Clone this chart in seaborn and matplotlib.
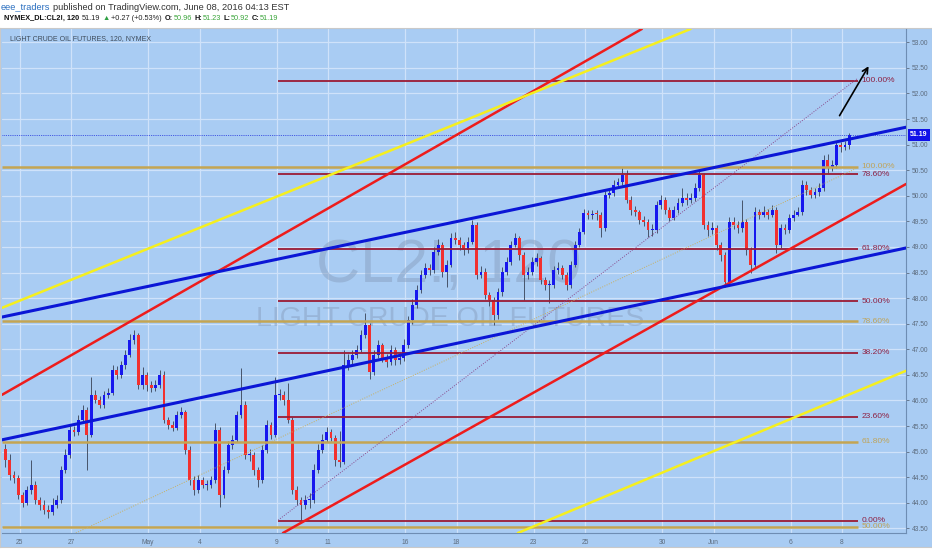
import matplotlib
matplotlib.use("Agg")
import matplotlib.pyplot as plt
import numpy as np
import pandas as pd
import seaborn as sns

# 120-minute CL2! bars (6 bars per trading day)
first_open = 45.05
closes = [
    44.84, 44.54, 44.48, 44.15, 44.00, 44.25, 44.35, 44.05, 43.96, 43.86,
    43.82, 43.96, 44.05, 44.64, 44.93, 45.42, 45.38, 45.62, 45.81, 45.32,
    46.11, 46.01, 45.91, 46.11, 46.15, 46.59, 46.50, 46.69, 46.89, 47.18,
    47.28, 46.30, 46.50, 46.30, 46.24, 46.30, 46.50, 45.62, 45.52, 45.46,
    45.71, 45.77, 45.03, 44.44, 44.25, 44.44, 44.35, 44.35, 44.44, 45.42,
    44.15, 44.64, 45.13, 45.23, 45.71, 45.91, 44.93, 44.93, 44.64, 44.44,
    45.03, 45.52, 45.32, 46.11, 46.11, 46.01, 45.62, 44.25, 44.05, 43.96,
    44.05, 44.05, 44.64, 45.03, 45.23, 45.38, 45.27, 44.84, 44.80, 46.69,
    46.79, 46.89, 46.99, 47.28, 47.47, 46.55, 46.89, 47.08, 46.83, 46.75,
    46.99, 46.79, 46.83, 47.08, 47.57, 47.87, 48.16, 48.45, 48.59, 48.55,
    48.90, 49.04, 48.51, 48.65, 49.18, 49.14, 49.04, 48.94, 49.10, 49.43,
    48.45, 48.51, 48.06, 47.96, 47.67, 48.12, 48.51, 48.71, 49.04, 49.18,
    48.84, 48.45, 48.51, 48.71, 48.78, 48.35, 48.26, 48.26, 48.55, 48.59,
    48.45, 48.26, 48.65, 49.04, 49.29, 49.66, 49.63, 49.64, 49.63, 49.37,
    50.02, 50.05, 50.21, 50.27, 50.41, 49.92, 49.72, 49.68, 49.53, 49.49,
    49.33, 49.33, 49.82, 49.92, 49.72, 49.57, 49.72, 49.86, 49.96, 49.92,
    49.96, 50.15, 50.41, 49.43, 49.33, 49.37, 49.04, 48.84, 48.31, 49.49,
    49.43, 49.37, 49.49, 48.94, 48.65, 49.68, 49.63, 49.68, 49.63, 49.72,
    49.04, 49.37, 49.33, 49.57, 49.63, 49.68, 50.21, 50.11, 50.02, 50.07,
    50.15, 50.70, 50.54, 50.60, 50.99, 50.95, 50.99, 51.19,
]
highs = [
    45.15, 44.95, 44.62, 44.55, 44.22, 44.32, 44.84, 44.42, 44.12, 44.05,
    43.95, 44.10, 44.15, 44.72, 45.05, 45.50, 45.50, 45.72, 45.92, 45.88,
    46.46, 46.20, 46.08, 46.18, 46.25, 46.70, 46.68, 46.78, 46.98, 47.30,
    47.38, 47.32, 46.66, 46.55, 46.38, 46.40, 46.60, 46.58, 45.68, 45.60,
    45.80, 45.88, 45.82, 45.10, 44.52, 44.55, 44.50, 44.45, 44.52, 45.56,
    45.48, 44.72, 45.20, 45.32, 45.80, 46.63, 45.98, 45.05, 45.00, 44.70,
    45.12, 45.62, 45.58, 46.46, 46.22, 46.18, 46.35, 45.68, 44.32, 44.12,
    44.15, 44.20, 44.75, 45.15, 45.35, 45.48, 45.45, 45.32, 45.40, 46.99,
    46.90, 46.98, 47.08, 47.38, 47.71, 47.52, 46.98, 47.18, 47.12, 46.90,
    47.08, 47.05, 46.95, 47.20, 47.65, 47.98, 48.25, 48.55, 48.68, 48.66,
    49.00, 49.15, 49.10, 48.75, 49.28, 49.30, 49.20, 49.10, 49.20, 49.52,
    49.48, 48.62, 48.58, 48.12, 48.02, 48.20, 48.60, 48.80, 49.12, 49.28,
    49.22, 48.90, 48.60, 48.80, 48.88, 48.82, 48.42, 48.36, 48.62, 48.70,
    48.65, 48.52, 48.72, 49.12, 49.38, 49.75, 49.73, 49.72, 49.72, 49.68,
    50.10, 50.14, 50.30, 50.35, 50.54, 50.50, 50.00, 49.80, 49.72, 49.60,
    49.55, 49.45, 49.90, 50.02, 49.98, 49.78, 49.80, 49.95, 50.15, 50.05,
    50.05, 50.25, 50.50, 50.45, 49.50, 49.48, 49.42, 49.10, 48.90, 49.58,
    49.58, 49.50, 49.92, 49.55, 49.00, 49.78, 49.75, 49.80, 49.75, 49.82,
    49.78, 49.45, 49.45, 49.65, 49.72, 49.78, 50.30, 50.28, 50.18, 50.15,
    50.25, 50.80, 50.82, 50.70, 51.08, 51.06, 51.08, 51.23,
]
lows = [
    44.70, 44.45, 44.38, 44.08, 43.92, 43.95, 44.18, 43.98, 43.85, 43.78,
    43.70, 43.76, 43.90, 44.00, 44.58, 44.88, 45.30, 45.33, 45.55, 44.64,
    45.28, 45.95, 45.85, 45.86, 46.05, 46.10, 46.42, 46.44, 46.62, 46.85,
    47.10, 46.22, 46.22, 46.18, 46.16, 46.18, 46.25, 45.55, 45.45, 45.40,
    45.42, 45.65, 44.95, 44.35, 44.15, 44.20, 44.28, 44.25, 44.28, 44.38,
    43.92, 44.10, 44.58, 45.05, 45.18, 45.65, 44.85, 44.82, 44.55, 44.30,
    44.38, 44.98, 45.25, 45.28, 46.00, 45.92, 45.55, 44.18, 43.95, 43.66,
    43.88, 43.90, 44.00, 44.58, 44.98, 45.18, 45.20, 44.72, 44.70, 44.75,
    46.60, 46.72, 46.82, 46.95, 47.22, 46.42, 46.50, 46.82, 46.75, 46.65,
    46.70, 46.70, 46.72, 46.78, 47.02, 47.50, 47.80, 48.10, 48.40, 48.46,
    48.50, 48.85, 48.42, 48.22, 48.60, 49.05, 48.95, 48.85, 48.88, 49.05,
    48.38, 48.40, 47.98, 47.85, 47.47, 47.60, 48.05, 48.45, 48.65, 49.00,
    48.75, 47.96, 48.38, 48.45, 48.62, 48.28, 48.15, 47.90, 48.20, 48.48,
    48.38, 48.15, 48.20, 48.60, 49.00, 49.25, 49.55, 49.55, 49.52, 49.20,
    49.32, 49.95, 50.00, 50.15, 50.22, 49.85, 49.62, 49.60, 49.45, 49.40,
    49.19, 49.22, 49.28, 49.75, 49.65, 49.50, 49.52, 49.66, 49.80, 49.82,
    49.85, 49.90, 50.10, 49.35, 49.22, 49.25, 48.95, 48.72, 48.21, 48.25,
    49.35, 49.28, 49.30, 48.85, 48.49, 48.60, 49.55, 49.58, 49.55, 49.58,
    48.88, 48.98, 49.25, 49.28, 49.50, 49.60, 49.62, 50.02, 49.95, 49.96,
    50.00, 50.10, 50.45, 50.48, 50.55, 50.85, 50.90, 50.92,
]
bars_per_day = 6
first_bar_day = -0.55   # trading-day position of the first bar (0 = Apr 25)

# x axis: trading-day index of each date label
date_ticks = [0, 2, 5, 7, 10, 12, 15, 17, 20, 22, 25, 27, 30, 32]
date_labels = ["25", "27", "May", "4", "9", "11", "16", "18", "23", "25", "30", "Jun", "6", "8"]
price_ticks = [43.5, 44.0, 44.5, 45.0, 45.5, 46.0, 46.5, 47.0, 47.5, 48.0,
               48.5, 49.0, 49.5, 50.0, 50.5, 51.0, 51.5, 52.0, 52.5, 53.0]
last_price = 51.19

# fibonacci retracement (red, from May 9 low) and gold (older swing)
fib_red_levels = [43.65, 45.68, 46.93, 47.94, 48.96, 50.42, 52.25]
fib_red_labels = ["0.00%", "23.60%", "38.20%", "50.00%", "61.80%", "78.60%", "100.00%"]
fib_red_span = [10.06, 32.62]
fib_gold_levels = [43.53, 45.19, 47.55, 50.57]
fib_gold_labels = ["50.00%", "61.80%", "78.60%", "100.00%"]
fib_gold_span = [-0.7, 32.62]

# trend lines: two anchor points (day, price) each
blue_upper = [(-0.685, 47.63), (34.49, 51.34)]
blue_lower = [(-0.685, 45.23), (34.49, 48.98)]
red_upper = [(-0.685, 46.11), (24.14, 53.24)]
red_lower = [(10.25, 43.41), (34.49, 50.23)]
yellow_upper = [(-0.685, 47.81), (26.01, 53.24)]
yellow_lower = [(19.39, 43.41), (34.49, 46.58)]
purple_dotted = [(10.06, 43.66), (32.62, 52.30)]
gold_dotted = [(2.19, 43.41), (32.58, 50.54)]
arrow_from = (31.85, 51.52)
arrow_to = (33.09, 52.58)

bg = "#a9ccf3"
sns.set_style("white", rc={"axes.facecolor": bg, "figure.facecolor": "white"})
plt.rcParams["font.family"] = ["DejaVu Sans"]
head_font = ["Liberation Sans", "DejaVu Sans"]

W, H = 932, 550
fig = plt.figure(figsize=(W / 100, H / 100), dpi=100)
back = fig.add_axes([0, 3 / H, 1, (547 - 28) / H], zorder=-5)
back.set_facecolor(bg)
back.set_xticks([])
back.set_yticks([])
for s in back.spines.values():
    s.set_color("#c9c9c9")
    s.set_linewidth(0.8)

ax = fig.add_axes([2 / W, 17 / H, 904 / W, 504 / H])
ax.patch.set_alpha(0)
ax.set_xlim(-0.685, 34.49)
ax.set_ylim(43.409, 53.26)

frame = pd.DataFrame({"close": closes, "high": highs, "low": lows})
frame["open"] = [first_open] + closes[:-1]
frame["day"] = first_bar_day + np.arange(len(frame)) / bars_per_day
frame["up"] = frame["close"] >= frame["open"]

# grid
for t in date_ticks:
    ax.axvline(t, color="#cfe2fa", lw=0.9, zorder=0.5)
for p in price_ticks:
    ax.axhline(p, color="#cfe2fa", lw=0.9, zorder=0.5)

# watermark
ax.text(0.494, 1 - (266 - 29) / 504, "CL2!, 120", transform=ax.transAxes, fontsize=44,
        color="#8aa3c4", alpha=0.55, ha="center", va="center", family=head_font, zorder=1)
ax.text(0.496, 1 - (319 - 29) / 504, "LIGHT CRUDE OIL FUTURES", transform=ax.transAxes,
        fontsize=20.5, color="#8aa3c4", alpha=0.55, ha="center", va="center",
        family=head_font, zorder=1)

# candles
ax.vlines(frame["day"], frame["low"], frame["high"], color="#46546a", lw=0.7, zorder=2)
body = (frame["close"] - frame["open"]).where(lambda s: s.abs() > 0.02, 0.02)
ax.bar(frame["day"], body, bottom=frame["open"], width=0.11,
       color=np.where(frame["up"], "#1717ee", "#f2302e"), zorder=2.5, linewidth=0)

# horizontal fib levels
for lvl, lab in zip(fib_gold_levels, fib_gold_labels):
    ax.hlines(lvl, *fib_gold_span, color="#c4a552", lw=1.8, zorder=3)
    ax.text(fib_gold_span[1] + 0.15, lvl, lab, color="#bfa45a", fontsize=6,
            va="center", family=head_font, zorder=5)
for lvl, lab in zip(fib_red_levels, fib_red_labels):
    ax.hlines(lvl, *fib_red_span, color="#9b1b35", lw=1.3, zorder=3)
    ax.text(fib_red_span[1] + 0.15, lvl, lab, color="#8e2143", fontsize=6,
            va="center", family=head_font, zorder=5)

# trend lines
for pts, col, lw in [(red_upper, "#ee1c1c", 1.8), (red_lower, "#ee1c1c", 1.8),
                     (yellow_upper, "#f5ef1f", 1.8), (yellow_lower, "#f5ef1f", 1.8),
                     (blue_upper, "#0b16d6", 2.2), (blue_lower, "#0b16d6", 2.2)]:
    ax.axline(pts[0], pts[1], color=col, lw=lw, zorder=4)
for pts, col in [(purple_dotted, "#8a4a8e"), (gold_dotted, "#c8b060")]:
    seg = pd.DataFrame(pts, columns=["day", "price"])
    sns.lineplot(data=seg, x="day", y="price", ax=ax, color=col, lw=0.7,
                 linestyle=(0, (1, 1.5)), zorder=3.5)
ax.annotate("", xy=arrow_to, xytext=arrow_from,
            arrowprops=dict(arrowstyle="->", color="black", lw=1.2, mutation_scale=10), zorder=6)
ax.axhline(last_price, color="#2233dd", lw=0.6, ls=(0, (1, 1.2)), zorder=3)

# axes
ax.set_xlabel("")
ax.set_ylabel("")
ax.yaxis.tick_right()
ax.set_yticks(price_ticks)
ax.set_yticklabels([f"{p:.2f}" for p in price_ticks])
ax.set_xticks(date_ticks)
ax.set_xticklabels(date_labels)
ax.tick_params(axis="both", labelsize=4.8, colors="#5d6c7e", length=2, width=0.6, pad=2)
for lab in ax.get_xticklabels() + ax.get_yticklabels():
    lab.set_family(head_font)
for side in ["top", "left"]:
    ax.spines[side].set_visible(False)
for side in ["right", "bottom"]:
    ax.spines[side].set_color("#6e8db3")
    ax.spines[side].set_linewidth(0.8)
ax.annotate(f"{last_price:.2f}", xy=(1.0, last_price), xycoords=("axes fraction", "data"),
            xytext=(3, 0), textcoords="offset points", fontsize=5, color="white",
            weight="bold", va="center", ha="left", annotation_clip=False, zorder=7,
            family=head_font, bbox=dict(boxstyle="square,pad=0.35", fc="#1010e8", ec="none"))

# header texts, laid out piece by piece
renderer = fig.canvas.get_renderer()


def text_row(x, y, pieces, size):
    for txt, col, bold, gap in pieces:
        t = fig.text(x / W, 1 - y / H, txt, fontsize=size, color=col, va="center",
                     weight="bold" if bold else "normal", family=head_font)
        x = t.get_window_extent(renderer).x1 + gap


text_row(1, 7, [("eee_traders", "#2a6fc0", False, 2.5),
                ("published on TradingView.com, June 08, 2016 04:13 EST", "#333333", False, 0)], 6.7)
green = "#3aa53a"
text_row(4, 18.5, [("NYMEX_DL:CL2!, 120", "#111111", True, 3), ("51.19", "#222222", False, 2),
                   ("\u25b2", "#2ea043", False, 1.5), ("+0.27 (+0.53%)", "#222222", False, 3),
                   ("O:", "#111111", True, 0.5), ("50.96", green, False, 2.5),
                   ("H:", "#111111", True, 0.5), ("51.23", green, False, 2.5),
                   ("L:", "#111111", True, 0.5), ("50.92", green, False, 2.5),
                   ("C:", "#111111", True, 0.5), ("51.19", green, False, 0)], 5.3)
fig.text(10 / W, 1 - 39 / H, "LIGHT CRUDE OIL FUTURES, 120, NYMEX", fontsize=5.0,
         color="#3e4b5a", va="center", family=head_font)

fig.savefig("out.png", dpi=100)
